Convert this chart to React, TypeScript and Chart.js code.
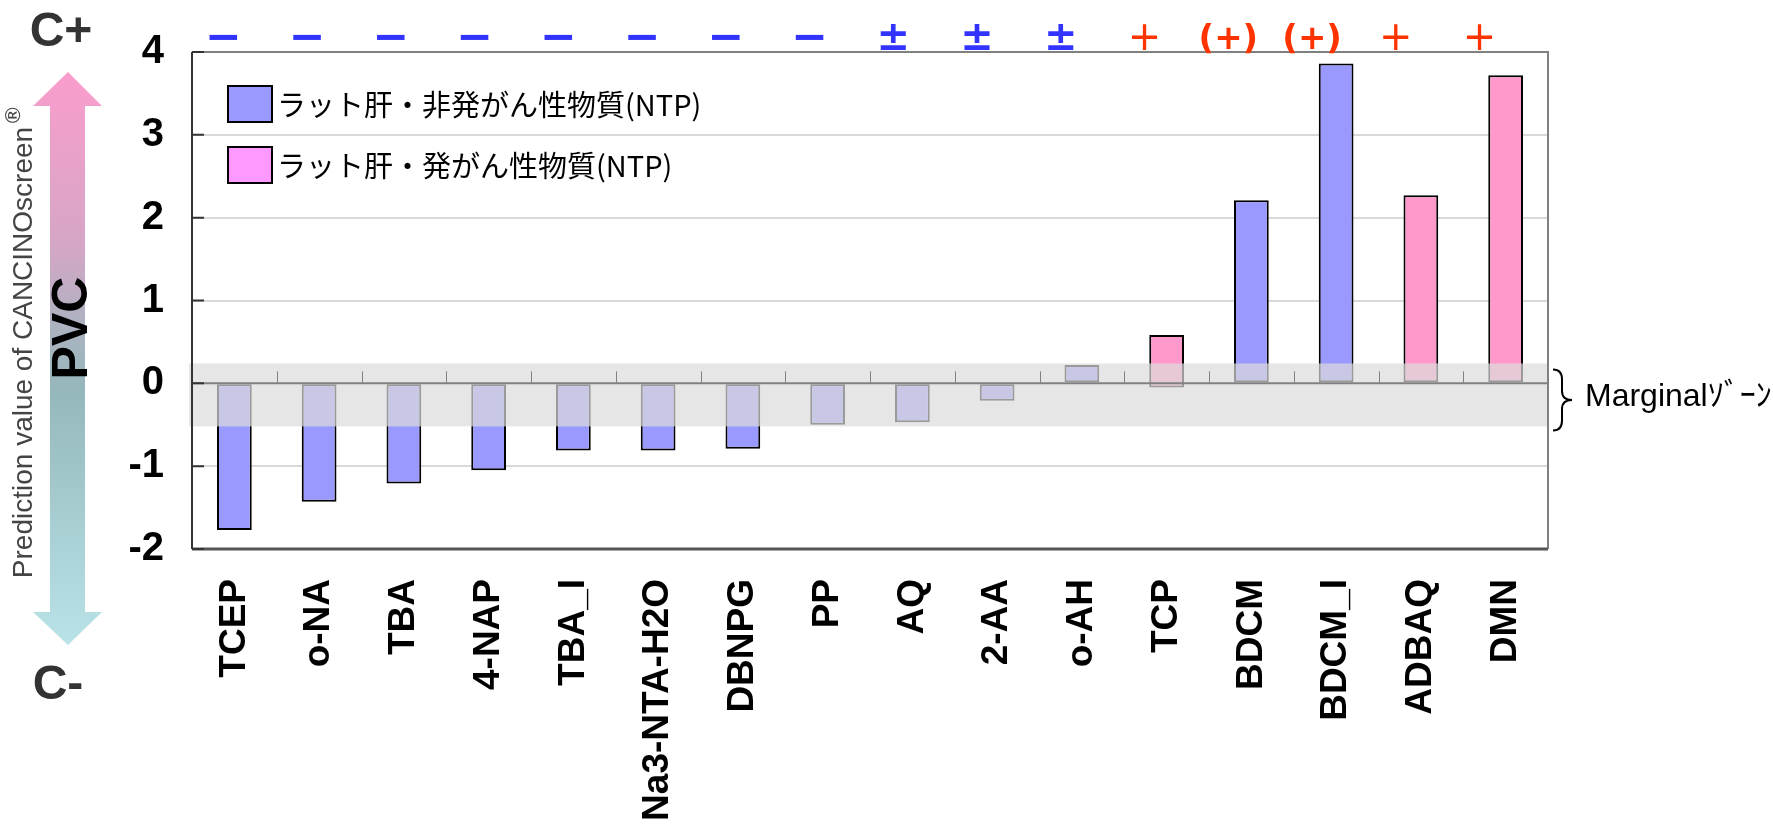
import React, { useEffect, useRef } from "react";
import { Chart, registerables } from "chart.js";

Chart.register(...registerables);

const categories = [
  "TCEP", "o-NA", "TBA", "4-NAP", "TBA_I", "Na3-NTA-H2O", "DBNPG", "PP",
  "AQ", "2-AA", "o-AH", "TCP", "BDCM", "BDCM_I", "ADBAQ", "DMN",
];
const nonCarcinogenValues: (number | null)[] = [
  -1.77, -1.43, -1.21, -1.05, -0.81, -0.81, -0.79, -0.5,
  -0.47, -0.21, 0.22, null, 2.21, 3.86, null, null,
];
const carcinogenValues: (number | number[] | null)[] = [
  null, null, null, null, null, null, null, null,
  null, null, null, [-0.05, 0.585], null, null, 2.27, 3.72,
];
const callSymbols = ["−", "−", "−", "−", "−", "−", "−", "−", "±", "±", "±", "+", "(+)", "(+)", "+", "+"];
const callIsPositive = [false, false, false, false, false, false, false, false, false, false, false, true, true, true, true, true];
const legendLabels = ["ラット肝・非発がん性物質(NTP)", "ラット肝・発がん性物質(NTP)"];
const marginalZone = [-0.52, 0.24];
const yMin = -2;
const yMax = 4;
const gridValues = [-1, 1, 2, 3];

const BLUE = "#9999ff";
const PINK = "#ff99cc";
const PINK_LEGEND = "#ff99ff";

const decorPlugin = {
  id: "decor",
  afterDatasetsDraw(chart: any) {
    const { ctx, chartArea } = chart;
    const xs = chart.scales.x;
    const ys = chart.scales.y;
    const { left, right, top, bottom } = chartArea;
    ctx.save();

    // marginal zone band
    const bTop = ys.getPixelForValue(marginalZone[1]);
    const bBot = ys.getPixelForValue(marginalZone[0]);
    ctx.fillStyle = "rgba(220,220,220,0.7)";
    ctx.fillRect(left - 3, bTop, right - left + 3, bBot - bTop);

    // zero axis line with category-boundary ticks
    const y0 = ys.getPixelForValue(0);
    ctx.strokeStyle = "#808080";
    ctx.lineWidth = 1;
    ctx.beginPath();
    const step = (right - left) / categories.length;
    for (let i = 1; i < categories.length; i++) {
      const x = Math.round(left + step * i) + 0.5;
      ctx.moveTo(x, y0);
      ctx.lineTo(x, y0 - 12);
    }
    ctx.stroke();
    ctx.lineWidth = 2;
    ctx.beginPath();
    ctx.moveTo(left, y0);
    ctx.lineTo(right, y0);
    ctx.stroke();

    // frame
    ctx.strokeStyle = "#808080";
    ctx.lineWidth = 2;
    ctx.beginPath();
    ctx.moveTo(left, top);
    ctx.lineTo(right, top);
    ctx.lineTo(right, bottom);
    ctx.stroke();
    ctx.strokeStyle = "#555";
    ctx.lineWidth = 3;
    ctx.beginPath();
    ctx.moveTo(left, bottom);
    ctx.lineTo(right, bottom);
    ctx.stroke();
    ctx.strokeStyle = "#333";
    ctx.lineWidth = 2;
    ctx.beginPath();
    ctx.moveTo(left, top);
    ctx.lineTo(left, bottom);
    for (let v = yMin; v <= yMax; v++) {
      const y = ys.getPixelForValue(v);
      ctx.moveTo(left, y);
      ctx.lineTo(left + 12, y);
    }
    ctx.stroke();

    // legend
    const lx = left + 36;
    const colors = [BLUE, PINK_LEGEND];
    legendLabels.forEach((lab, i) => {
      const by = top + 34 + i * 61;
      ctx.fillStyle = colors[i];
      ctx.fillRect(lx, by, 44, 36);
      ctx.strokeStyle = "#000";
      ctx.lineWidth = 2;
      ctx.strokeRect(lx, by, 44, 36);
      ctx.fillStyle = "#000";
      ctx.font = '29px "Noto Sans CJK JP"';
      ctx.textAlign = "left";
      ctx.textBaseline = "middle";
      ctx.fillText(lab, lx + 49, by + 19);
    });

    // call symbols above plot
    const s0 = xs.getPixelForValue(0) - 11;
    const s1 = xs.getPixelForValue(categories.length - 1) - 26;
    callSymbols.forEach((sym, i) => {
      const x = s0 + ((s1 - s0) * i) / (categories.length - 1);
      ctx.fillStyle = callIsPositive[i] ? "#ff3300" : "#3333ff";
      ctx.textAlign = "center";
      ctx.textBaseline = "middle";
      if (sym === "−") ctx.font = 'bold 44px "DejaVu Sans"';
      else if (sym === "±") ctx.font = 'bold 40px "DejaVu Sans"';
      else if (sym === "+") ctx.font = '40px "DejaVu Sans"';
      else ctx.font = 'bold 34px "DejaVu Sans"';
      ctx.fillText(sym, x, top - 12);
    });

    // marginal zone brace + label
    const bx = right + 5;
    const bt = bTop + 6;
    const bb = bBot + 4;
    const bm = (bt + bb) / 2;
    ctx.strokeStyle = "#000";
    ctx.lineWidth = 2;
    ctx.beginPath();
    ctx.moveTo(bx, bt);
    ctx.quadraticCurveTo(bx + 9, bt, bx + 9, bt + 10);
    ctx.lineTo(bx + 9, bm - 9);
    ctx.quadraticCurveTo(bx + 9, bm, bx + 19, bm);
    ctx.quadraticCurveTo(bx + 9, bm, bx + 9, bm + 9);
    ctx.lineTo(bx + 9, bb - 10);
    ctx.quadraticCurveTo(bx + 9, bb, bx, bb);
    ctx.stroke();
    ctx.fillStyle = "#000";
    ctx.font = '32px "Liberation Sans", "Noto Sans CJK JP"';
    ctx.textAlign = "left";
    ctx.textBaseline = "middle";
    ctx.fillText("Marginalｿﾞｰﾝ", bx + 32, bm - 3);

    // left arrow
    const grad = ctx.createLinearGradient(0, 72, 0, 645);
    grad.addColorStop(0, "#fa9dcc");
    grad.addColorStop(0.3, "#d6a6c6");
    grad.addColorStop(0.45, "#aab3c0");
    grad.addColorStop(0.56, "#95b8bc");
    grad.addColorStop(1, "#b9e3e7");
    ctx.fillStyle = grad;
    ctx.beginPath();
    ctx.moveTo(68, 72);
    ctx.lineTo(102, 106);
    ctx.lineTo(85, 106);
    ctx.lineTo(85, 612);
    ctx.lineTo(102, 612);
    ctx.lineTo(68, 645);
    ctx.lineTo(33, 612);
    ctx.lineTo(50, 612);
    ctx.lineTo(50, 106);
    ctx.lineTo(33, 106);
    ctx.closePath();
    ctx.fill();

    ctx.fillStyle = "#333";
    ctx.font = 'bold 48px "Liberation Sans"';
    ctx.textAlign = "center";
    ctx.textBaseline = "middle";
    ctx.fillText("C+", 61, 33);
    ctx.fillText("C-", 58, 686);

    // PVC
    ctx.save();
    ctx.translate(73, 328);
    ctx.rotate(-Math.PI / 2);
    ctx.fillStyle = "#000";
    ctx.font = 'bold 50px "Liberation Sans"';
    ctx.textAlign = "center";
    ctx.textBaseline = "middle";
    ctx.fillText("PVC", 0, 0);
    ctx.restore();

    // rotated title
    ctx.save();
    ctx.translate(24, 342);
    ctx.rotate(-Math.PI / 2);
    ctx.fillStyle = "#444";
    ctx.font = '28px "Liberation Sans"';
    const main = "Prediction value of CANCINOscreen";
    const w = ctx.measureText(main).width;
    ctx.font = '21px "DejaVu Sans"';
    const wr = ctx.measureText("®").width;
    const start = -(w + wr) / 2;
    ctx.font = '28px "Liberation Sans"';
    ctx.textAlign = "left";
    ctx.textBaseline = "middle";
    ctx.fillText(main, start, 0);
    ctx.font = '21px "DejaVu Sans"';
    ctx.fillText("®", start + w + 1, -9);
    ctx.restore();

    ctx.restore();
  },
};

export default function App() {
  const ref = useRef<HTMLCanvasElement | null>(null);
  useEffect(() => {
    document.body.style.margin = "0";
    const canvas = ref.current;
    if (!canvas) return;
    const chart = new Chart(canvas, {
      type: "bar",
      data: {
        labels: categories,
        datasets: [
          {
            label: legendLabels[0],
            data: nonCarcinogenValues as any,
            backgroundColor: BLUE,
            borderColor: "#000",
            borderWidth: 2,
            borderSkipped: false,
            barPercentage: 0.41,
            categoryPercentage: 1,
            grouped: false,
          } as any,
          {
            label: legendLabels[1],
            data: carcinogenValues as any,
            backgroundColor: PINK,
            borderColor: "#000",
            borderWidth: 2,
            borderSkipped: false,
            barPercentage: 0.41,
            categoryPercentage: 1,
            grouped: false,
          } as any,
        ],
      },
      options: {
        animation: false,
        responsive: false,
        devicePixelRatio: 1,
        layout: { padding: { left: 0, top: 48, right: 225, bottom: 0 } },
        plugins: {
          legend: { display: false },
          tooltip: { enabled: false },
          title: { display: false },
        },
        scales: {
          x: {
            type: "category",
            grid: { display: false, drawTicks: false },
            border: { display: false },
            ticks: {
              color: "#000",
              font: { family: "Liberation Sans", weight: "bold", size: 37 },
              minRotation: 90,
              maxRotation: 90,
              autoSkip: false,
              padding: 30,
            },
            afterFit: (s: any) => {
              s.height = 279;
            },
          },
          y: {
            min: yMin,
            max: yMax,
            grid: {
              drawTicks: false,
              lineWidth: 2,
              color: (c: any) => (gridValues.includes(c.tick?.value) ? "#d9d9d9" : "rgba(0,0,0,0)"),
            },
            border: { display: false },
            ticks: {
              stepSize: 1,
              color: "#000",
              font: { family: "Liberation Sans", weight: "bold", size: 40 },
              padding: 28,
            },
            afterFit: (s: any) => {
              s.width = 192;
            },
          },
        },
      },
      plugins: [decorPlugin],
    });
    return () => chart.destroy();
  }, []);
  return (
    <div style={{ width: 1773, height: 828, background: "#fff" }}>
      <canvas ref={ref} width={1773} height={828} style={{ width: 1773, height: 828, display: "block" }} />
    </div>
  );
}
